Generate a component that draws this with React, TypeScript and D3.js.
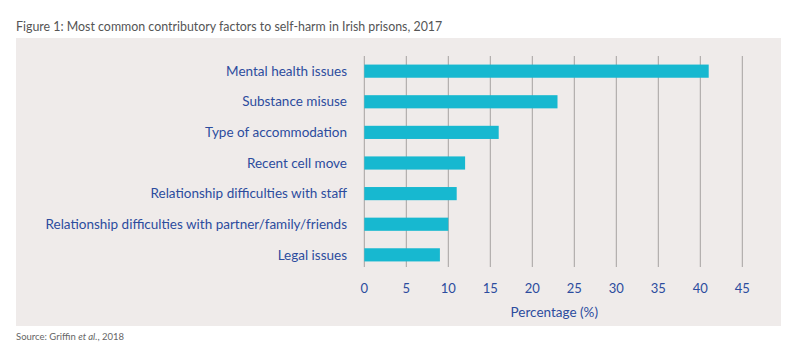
import React, { useEffect, useRef } from 'react';
import * as d3 from 'd3';

const categories = [
  'Mental health issues',
  'Substance misuse',
  'Type of accommodation',
  'Recent cell move',
  'Relationship difficulties with staff',
  'Relationship difficulties with partner/family/friends',
  'Legal issues',
];
const percentages = [41, 23, 16, 12, 11, 10, 9];
const xTicks = [0, 5, 10, 15, 20, 25, 30, 35, 40, 45];

const titleText = 'Figure 1: Most common contributory factors to self-harm in Irish prisons, 2017';
const axisTitle = 'Percentage (%)';

const W = 800;
const H = 360;
const FONT = 'Lato, "Noto Sans", sans-serif';
const BLUE = '#2c4c9e';

export default function App() {
  const ref = useRef<SVGSVGElement>(null);

  useEffect(() => {
    const svg = d3.select(ref.current);
    svg.selectAll('*').remove();

    // panel
    svg.append('rect').attr('x', 16).attr('y', 38).attr('width', 765).attr('height', 288).attr('fill', '#efebea');

    svg.append('text')
      .attr('x', 16).attr('y', 31)
      .attr('font-family', FONT).attr('font-size', 12.4)
      .attr('fill', '#555').text(titleText);

    svg.append('text')
      .attr('x', 16).attr('y', 340)
      .attr('font-family', FONT).attr('font-size', 9.5)
      .attr('fill', '#666')
      .call((t) => {
        t.append('tspan').text('Source: Griffin ');
        t.append('tspan').attr('font-style', 'italic').text('et al.');
        t.append('tspan').text(', 2018');
      });

    const x = d3.scaleLinear().domain([0, 45]).range([364.3, 742.3]);
    const y = d3.scaleBand().domain(categories).range([56, 270]).paddingInner(0.57).paddingOuter(0.28);

    // grid lines
    svg.append('g').selectAll('line').data(xTicks).enter()
      .append('line')
      .attr('x1', (d) => x(d)).attr('x2', (d) => x(d))
      .attr('y1', 56).attr('y2', 267)
      .attr('stroke', '#a5a2a0').attr('stroke-width', 1);

    // bars
    svg.append('g').selectAll('rect').data(percentages).enter()
      .append('rect')
      .attr('x', x(0))
      .attr('y', (d, i) => y(categories[i]) as number)
      .attr('width', (d) => x(d) - x(0))
      .attr('height', y.bandwidth())
      .attr('fill', '#17b8d0');

    // category labels
    svg.append('g').selectAll('text').data(categories).enter()
      .append('text')
      .attr('x', 347)
      .attr('y', (d) => (y(d) as number) + y.bandwidth() / 2)
      .attr('dy', '0.35em')
      .attr('text-anchor', 'end')
      .attr('font-family', FONT).attr('font-size', 13.5)
      .attr('fill', BLUE)
      .text((d) => d);

    // tick labels
    svg.append('g').selectAll('text').data(xTicks).enter()
      .append('text')
      .attr('x', (d) => x(d))
      .attr('y', 293)
      .attr('text-anchor', 'middle')
      .attr('font-family', FONT).attr('font-size', 13)
      .attr('fill', BLUE)
      .text((d) => d);

    svg.append('text')
      .attr('x', (x(0) + x(45)) / 2 + 1).attr('y', 317)
      .attr('text-anchor', 'middle')
      .attr('font-family', FONT).attr('font-size', 13.5)
      .attr('fill', BLUE).text(axisTitle);
  }, []);

  return (
    <div style={{ position: 'absolute', left: 0, top: 0 }}>
      <svg ref={ref} width={W} height={H} style={{ display: 'block', background: '#fff' }} />
    </div>
  );
}
